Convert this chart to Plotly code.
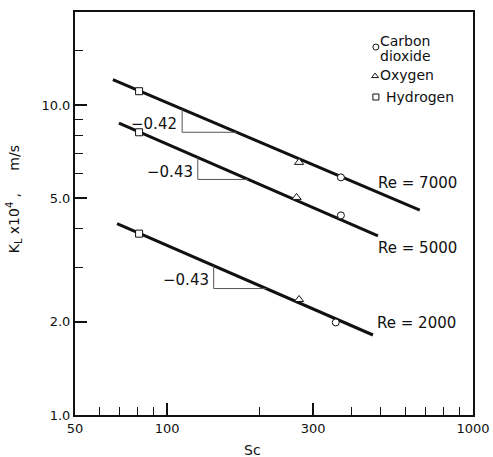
import math
import plotly.graph_objects as go

# Mass transfer coefficient vs Schmidt number, three Reynolds numbers
re_labels = ["Re = 7000", "Re = 5000", "Re = 2000"]

# Measured points (Sc, K_L x 10^4 in m/s), one value per Reynolds number
hydrogen_sc = [81, 81, 81]
hydrogen_kl = [11.1, 8.18, 3.85]
oxygen_sc = [270, 265, 270]
oxygen_kl = [6.54, 5.04, 2.36]
co2_sc = [370, 370, 356]
co2_kl = [5.85, 4.41, 1.99]

# Fitted power-law lines: slope, start point and end Sc
slopes = [-0.42, -0.43, -0.43]
slope_text = ["\u22120.42", "\u22120.43", "\u22120.43"]
fit_start_sc = [66.5, 69.6, 68.6]
fit_start_kl = [12.1, 8.75, 4.15]
fit_end_sc = [670, 489, 471]

# Slope triangles: Sc of the vertical leg and K_L of the horizontal leg
tri_sc = [112, 126, 142]
tri_base_kl = [8.18, 5.76, 2.56]

# Axis ticks
x_major = [50, 100, 300, 1000]
x_major_text = ["50", "100", "300", "1000"]
x_minor = [60, 70, 80, 90, 200, 400, 500, 600, 700, 800, 900]
y_major = [1, 2, 5, 10]
y_major_text = ["1.0", "2.0", "5.0", "10.0"]
y_minor = [3, 4, 6, 7, 8, 9, 15]

# Key entries (the first one wraps onto two lines)
legend_lines = ["Carbon", "dioxide", "Oxygen", "Hydrogen"]
legend_symbols = ["circle", "triangle-up", "square"]

FONT = "DejaVu Sans"
INK = "#111111"

fig = go.Figure()


def fit_value(i, sc):
    return fit_start_kl[i] * (sc / fit_start_sc[i]) ** slopes[i]


def fit_inverse(i, kl):
    return fit_start_sc[i] * (kl / fit_start_kl[i]) ** (1.0 / slopes[i])


annotations = []
for i in range(3):
    xs = [fit_start_sc[i], fit_end_sc[i]]
    ys = [fit_value(i, x) for x in xs]
    fig.add_trace(go.Scatter(x=xs, y=ys, mode="lines",
                             line=dict(color=INK, width=3), hoverinfo="skip"))
    # slope triangle under the line
    xv = tri_sc[i]
    yb = tri_base_kl[i]
    yt = fit_value(i, xv)
    xh = fit_inverse(i, yb)
    fig.add_trace(go.Scatter(x=[xv, xv, xh], y=[yt, yb, yb], mode="lines",
                             line=dict(color="#555555", width=1), hoverinfo="skip"))
    ymid = 0.5 * (math.log10(yt) + math.log10(yb))
    annotations.append(dict(x=math.log10(xv), y=ymid, xref="x", yref="y",
                            text=slope_text[i], showarrow=False,
                            xanchor="right", yanchor="middle", xshift=-3, yshift=-3,
                            font=dict(family=FONT, size=15, color=INK)))

marker_line = dict(color=INK, width=1)
fig.add_trace(go.Scatter(x=hydrogen_sc, y=hydrogen_kl, mode="markers",
                         marker=dict(symbol="square", color="white", size=7,
                                     line=marker_line)))
fig.add_trace(go.Scatter(x=oxygen_sc, y=oxygen_kl, mode="markers",
                         marker=dict(symbol="triangle-up", color="white", size=8,
                                     line=marker_line)))
fig.add_trace(go.Scatter(x=co2_sc, y=co2_kl, mode="markers",
                         marker=dict(symbol="circle", color="white", size=7,
                                     line=marker_line)))

# Key in the upper right, drawn on an overlay axis spanning the plot area
key_x = [0.756, 0.754, 0.756]
key_y = [0.913, 0.841, 0.789]
fig.add_trace(go.Scatter(x=key_x, y=key_y, mode="markers", xaxis="x2", yaxis="y2",
                         marker=dict(symbol=legend_symbols, color="white", size=6,
                                     line=dict(color=INK, width=1)),
                         hoverinfo="skip"))
key_text_x = [0.763, 0.765, 0.765, 0.779]
key_text_y = [0.927, 0.890, 0.843, 0.789]
for name, tx, ty in zip(legend_lines, key_text_x, key_text_y):
    annotations.append(dict(x=tx, y=ty, xref="paper", yref="paper", text=name,
                            showarrow=False, xanchor="left", yanchor="middle",
                            borderpad=0,
                            font=dict(family=FONT, size=14, color=INK)))

# Reynolds number labels
re_x = [0.756, 0.756, 0.754]
re_y = [0.576, 0.414, 0.228]
for lab, rx, ry in zip(re_labels, re_x, re_y):
    annotations.append(dict(x=rx, y=ry, xref="paper", yref="paper", text=lab,
                            showarrow=False, xanchor="left", yanchor="middle",
                            font=dict(family=FONT, size=15, color=INK)))

# Axis titles
annotations.append(dict(x=-0.151, y=0.535, xref="paper", yref="paper",
                        text="K<sub>L</sub> x10<sup>4</sup> ,\u00a0\u00a0\u00a0\u00a0\u00a0m/s",
                        textangle=-90, showarrow=False,
                        xanchor="center", yanchor="middle",
                        font=dict(family=FONT, size=14, color=INK)))
annotations.append(dict(x=0.447, y=-0.087, xref="paper", yref="paper", text="Sc",
                        showarrow=False, xanchor="center", yanchor="middle",
                        font=dict(family=FONT, size=14, color=INK)))

axis_common = dict(showgrid=False, zeroline=False, showline=True, linecolor=INK,
                   linewidth=2, mirror=True, ticks="inside", tickcolor=INK,
                   tickwidth=1.5, ticklen=12, automargin=False,
                   tickfont=dict(family=FONT, size=13, color=INK))

fig.update_layout(
    width=493, height=457,
    margin=dict(l=75, r=20, t=12, b=42, autoexpand=False),
    paper_bgcolor="white", plot_bgcolor="white",
    showlegend=False,
    annotations=annotations,
    xaxis=dict(type="log", range=[math.log10(50), math.log10(1000)],
               tickmode="array", tickvals=x_major, ticktext=x_major_text,
               minor=dict(tickmode="array", tickvals=x_minor, ticks="inside",
                          ticklen=8, tickwidth=1, tickcolor=INK),
               **axis_common),
    yaxis=dict(type="log", range=[0, math.log10(20)],
               tickmode="array", tickvals=y_major, ticktext=y_major_text,
               minor=dict(tickmode="array", tickvals=y_minor, ticks="inside",
                          ticklen=8, tickwidth=1, tickcolor=INK),
               **axis_common),
    xaxis2=dict(overlaying="x", range=[0, 1], visible=False, fixedrange=True,
                automargin=False),
    yaxis2=dict(overlaying="y", range=[0, 1], visible=False, fixedrange=True,
                automargin=False),
)

fig.write_html("out.html")
